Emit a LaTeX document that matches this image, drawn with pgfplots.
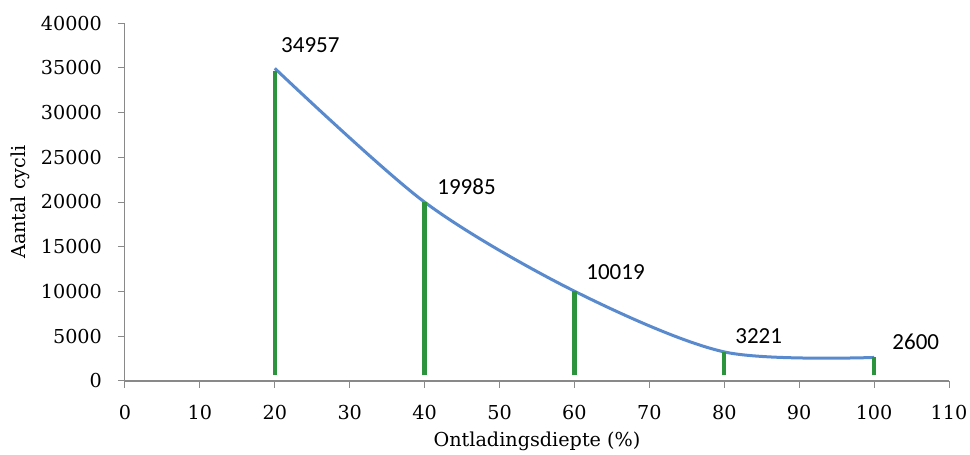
\documentclass[border=0pt]{standalone}
\usepackage{fontspec}
\setmainfont{DejaVu Serif}
\newfontfamily\lblfont{Carlito}
\usepackage{pgfplots}
\pgfplotsset{compat=1.18}
\definecolor{curveblue}{RGB}{88,138,205}
\definecolor{bargreen}{RGB}{44,148,60}
\definecolor{axgray}{RGB}{137,137,137}
\begin{document}
\begin{tikzpicture}
\path[use as bounding box] (-62.5pt,-37.15pt) rectangle (422.5pt,190.35pt);
\begin{axis}[
  at={(0,0)}, anchor=south west,
  width=412pt, height=178.7pt, scale only axis,
  xmin=0, xmax=110, ymin=0, ymax=40000,
  xtick={0,10,...,110}, ytick={0,5000,...,40000},
  axis x line*=bottom, axis y line*=left,
  x axis line style={axgray, line width=1pt},
  y axis line style={axgray, line width=0.5pt},
  tick style={axgray, line width=0.5pt},
  tick align=outside, major tick length=3.5pt,
  scaled y ticks=false,
  yticklabel style={xshift=-4.5pt, /pgf/number format/.cd, fixed, 1000 sep={}},
  /pgf/number format/assume math mode=true,
  ticklabel style={font=\fontsize{9.6}{11}\selectfont, text=black},
  xticklabel style={yshift=-5pt},
  label style={font=\fontsize{9.6}{11}\selectfont},
  xlabel={Ontladingsdiepte (\%)},
  ylabel={Aantal cycli},
  xlabel style={at={(axis description cs:0.5,-0.1700)}, anchor=center},
  ylabel style={at={(axis description cs:-0.1274,0.5)}, anchor=center},
  clip=false,
]
\addplot[curveblue, line width=1.5pt, smooth] coordinates {
  (20,34957) (40,19985) (60,10019) (80,3221) (100,2600)
};
\addplot[bargreen, line width=2.2pt, unbounded coords=jump] coordinates {
  (20,600) (20,34700) (20,nan)
  (40,600) (40,19985) (40,nan)
  (60,600) (60,10019) (60,nan)
  (80,600) (80,3221) (80,nan)
  (100,600) (100,2600)
};
\node[anchor=west, inner sep=0, font=\lblfont\fontsize{11.5}{13}\selectfont] at (axis cs:20.8,37570) {34957};
\node[anchor=west, inner sep=0, font=\lblfont\fontsize{11.5}{13}\selectfont] at (axis cs:41.65,21676) {19985};
\node[anchor=west, inner sep=0, font=\lblfont\fontsize{11.5}{13}\selectfont] at (axis cs:61.54,12164) {10019};
\node[anchor=west, inner sep=0, font=\lblfont\fontsize{11.5}{13}\selectfont] at (axis cs:81.43,5002) {3221};
\node[anchor=west, inner sep=0, font=\lblfont\fontsize{11.5}{13}\selectfont] at (axis cs:102.4,4331) {2600};
\end{axis}
\end{tikzpicture}
\end{document}
